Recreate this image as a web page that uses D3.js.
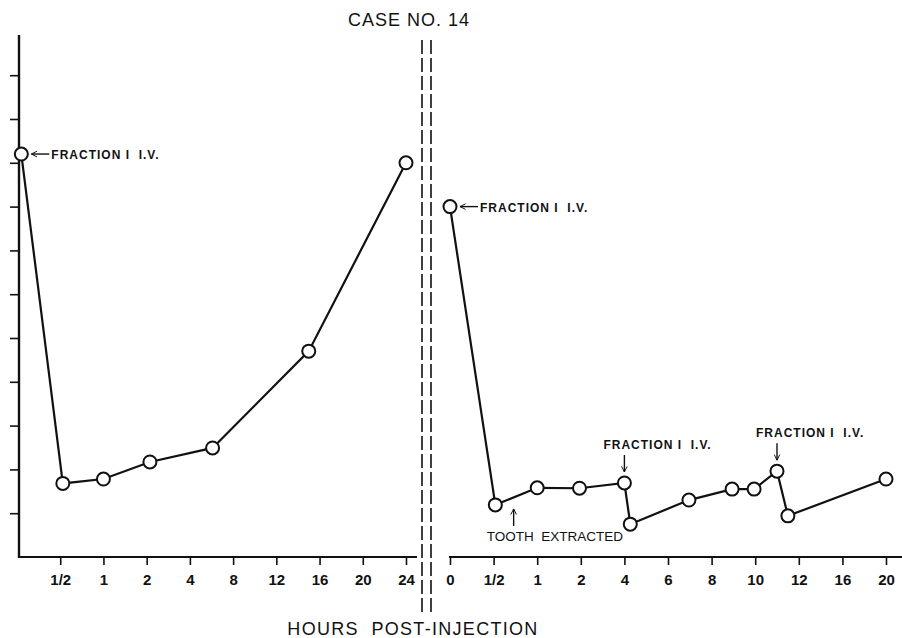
<!DOCTYPE html>
<html>
<head>
<meta charset="utf-8">
<script src="https://cdn.jsdelivr.net/npm/d3@7"></script>
<style>
  html, body { margin: 0; padding: 0; background: #fff; }
  svg { display: block; }
  text { font-family: "Liberation Sans", Arial, sans-serif; fill: #111; }
</style>
</head>
<body>
<svg id="chart" width="902" height="638"></svg>
<script>
// ---- data ----
const title = "CASE NO. 14";
const xTitle = "HOURS POST-INJECTION";

// left panel (first injection): hour tick labels and positions in hours
const leftTickLabels = ["0", "1/2", "1", "2", "4", "8", "12", "16", "20", "24"];
const leftTickHours  = [0, 0.5, 1, 2, 4, 8, 12, 16, 20, 24];
const leftHours  = [0.05, 0.53, 1, 2.15, 6.1, 15, 24];
const leftValues = [9.2, 1.68, 1.78, 2.17, 2.49, 4.70, 9.0];

// right panel (second injection)
const rightTickLabels = ["0", "1/2", "1", "2", "4", "6", "8", "10", "12", "16", "20"];
const rightTickHours  = [0, 0.5, 1, 2, 4, 6, 8, 10, 12, 16, 20];
const rightHours  = [0, 0.52, 1, 1.97, 4, 4.27, 6.96, 8.94, 9.95, 11, 11.5, 20];
const rightValues = [8.0, 1.19, 1.58, 1.57, 1.69, 0.75, 1.30, 1.55, 1.55, 1.96, 0.94, 1.78];

const yTickValues = [1, 2, 3, 4, 5, 6, 7, 8, 9, 10, 11];

// annotations
const sideNotes = [ // "<- FRACTION I I.V." next to a point
  { panel: "left",  hour: 0.05, value: 9.2, text: "FRACTION I  I.V." },
  { panel: "right", hour: 0,    value: 8.0, text: "FRACTION I  I.V." }
];
const topNotes = [ // text with down arrow above a point
  { hour: 4,  value: 1.69, text: "FRACTION I  I.V." },
  { hour: 11, value: 1.96, text: "FRACTION I  I.V." }
];
const bottomNotes = [ // up arrow with text below
  { hour: 0.73, value: 1.12, text: "TOOTH  EXTRACTED" }
];

// ---- layout ----
const svg = d3.select("#chart");
const baseY = 557;
const y = d3.scaleLinear().domain([0, 11]).range([baseY, baseY - 11 * 43.8]);

const leftIdx  = d3.scaleLinear().domain([0, leftTickHours.length - 1]).range([17, 406]);
const rightIdx = d3.scaleLinear().domain([0, rightTickHours.length - 1]).range([450, 886]);
const xL = d3.scaleLinear().domain(leftTickHours).range(leftTickHours.map((d, i) => leftIdx(i)));
const xR = d3.scaleLinear().domain(rightTickHours).range(rightTickHours.map((d, i) => rightIdx(i)));

// marker
svg.append("defs").append("marker")
  .attr("id", "ah").attr("viewBox", "0 0 10 10")
  .attr("refX", 9).attr("refY", 5)
  .attr("markerWidth", 7).attr("markerHeight", 7)
  .attr("markerUnits", "userSpaceOnUse")
  .attr("orient", "auto-start-reverse")
  .append("path").attr("d", "M1,1 L9,5 L1,9").attr("fill", "none")
  .attr("stroke", "#111").attr("stroke-width", 1.4);

// title
svg.append("text").attr("x", 409).attr("y", 26).attr("text-anchor", "middle")
  .style("font-size", "18px").style("letter-spacing", "1px").text(title);
svg.append("text").attr("x", 413).attr("y", 635).attr("text-anchor", "middle")
  .style("font-size", "18px").style("letter-spacing", "1.3px").style("white-space", "pre")
  .text(xTitle.replace(" ", "  "));

// break lines
[422, 431].forEach(x => {
  svg.append("line").attr("x1", x).attr("x2", x).attr("y1", 40).attr("y2", 614)
    .attr("stroke", "#111").attr("stroke-width", 1.6).attr("stroke-dasharray", "14,4");
});

// y axis (left)
const yAxis = svg.append("g").attr("transform", "translate(19,0)")
  .call(d3.axisLeft(y).tickValues(yTickValues).tickSize(9).tickSizeOuter(0).tickFormat(""));
yAxis.select(".domain").remove();
yAxis.selectAll("line").attr("stroke", "#111").attr("stroke-width", 1.6);
svg.append("line").attr("x1", 19).attr("x2", 19).attr("y1", 35).attr("y2", baseY + 1)
  .attr("stroke", "#111").attr("stroke-width", 2.4);

// x axes
function xAxis(idxScale, labels, skipFirst, x0, x1) {
  const vals = labels.map((d, i) => i).filter(i => !(skipFirst && i === 0));
  const g = svg.append("g").attr("transform", `translate(0,${baseY})`)
    .call(d3.axisBottom(idxScale).tickValues(vals).tickSize(8).tickSizeOuter(0)
      .tickFormat(i => labels[i]));
  g.select(".domain").remove();
  g.selectAll("line").attr("stroke", "#111").attr("stroke-width", 1.6);
  g.selectAll("text").attr("y", 28).attr("dy", null)
    .style("font-size", "15px").style("font-weight", "bold").style("fill", "#111");
  svg.append("line").attr("x1", x0).attr("x2", x1).attr("y1", baseY).attr("y2", baseY)
    .attr("stroke", "#111").attr("stroke-width", 2.2);
}
xAxis(leftIdx, leftTickLabels, true, 18, 417);
xAxis(rightIdx, rightTickLabels, false, 449, 902);

// series
function series(xs, hours, values) {
  const pts = hours.map((h, i) => [xs(h), y(values[i])]);
  svg.append("path").attr("d", d3.line()(pts)).attr("fill", "none")
    .attr("stroke", "#111").attr("stroke-width", 2.2);
  svg.append("g").selectAll("circle").data(pts).join("circle")
    .attr("cx", d => d[0]).attr("cy", d => d[1]).attr("r", 6.5)
    .attr("fill", "#fff").attr("stroke", "#111").attr("stroke-width", 2);
}
series(xL, leftHours, leftValues);
series(xR, rightHours, rightValues);

// annotations
const noteFont = g => g.style("font-size", "12px").style("font-weight", "bold")
  .style("white-space", "pre").style("letter-spacing", "1px");

sideNotes.forEach(n => {
  const xs = n.panel === "left" ? xL : xR;
  const px = xs(n.hour), py = y(n.value);
  svg.append("line").attr("x1", px + 28).attr("x2", px + 10).attr("y1", py).attr("y2", py)
    .attr("stroke", "#111").attr("stroke-width", 1.4).attr("marker-end", "url(#ah)");
  svg.append("text").attr("x", px + 30).attr("y", py + 5).call(noteFont).text(n.text);
});
topNotes.forEach(n => {
  const px = xR(n.hour), py = y(n.value);
  svg.append("line").attr("x1", px).attr("x2", px).attr("y1", py - 28).attr("y2", py - 11)
    .attr("stroke", "#111").attr("stroke-width", 1.4).attr("marker-end", "url(#ah)");
  svg.append("text").attr("x", px - 21).attr("y", py - 34).call(noteFont).text(n.text);
});
bottomNotes.forEach(n => {
  const px = xR(n.hour), py = y(n.value);
  svg.append("line").attr("x1", px).attr("x2", px).attr("y1", py + 18).attr("y2", py + 1)
    .attr("stroke", "#111").attr("stroke-width", 1.4).attr("marker-end", "url(#ah)");
  svg.append("text").attr("x", px - 27).attr("y", py + 33)
    .style("font-size", "13.5px").style("white-space", "pre").text(n.text);
});
</script>
</body>
</html>
